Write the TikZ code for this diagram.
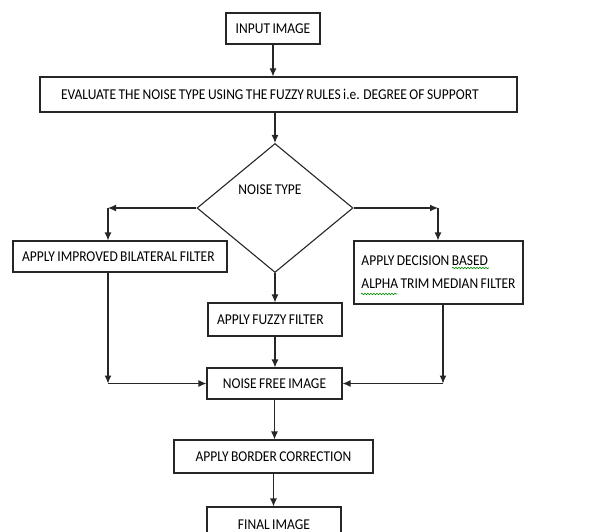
\documentclass[tikz,border=0pt]{standalone}
\usepackage{fontspec}
\setmainfont{Carlito}[FakeStretch=0.9,WordSpace=0.8]
\usetikzlibrary{arrows.meta,shapes.geometric,decorations.pathmorphing}
\begin{document}
\begin{tikzpicture}[x=1pt,y=-1pt,
  box/.style={draw=black!85,line width=1.1pt,rectangle,inner sep=0pt,font=\fontsize{15pt}{23pt}\selectfont},
  lbl/.style={inner sep=0pt,font=\fontsize{15pt}{23pt}\selectfont},
  arr/.style={draw=black!85,line width=1.1pt,-{Latex[length=8pt,width=7pt]}},
  wavy/.style={draw=green!55!black,line width=0.6pt,decorate,decoration={snake,amplitude=0.8pt,segment length=3pt}}]
\useasboundingbox (0,0) rectangle (616,532);
\clip (0,0) rectangle (616,532);
\node[box,minimum width=94pt,minimum height=31pt] (in) at (273,28.5) {INPUT IMAGE};
\node[box,minimum height=35pt,inner xsep=21pt] (ev) at (278.5,94.5) {\makebox[435pt][l]{EVALUATE THE NOISE TYPE USING THE FUZZY RULES i.e. DEGREE OF SUPPORT}};
\node[draw=black!85,line width=1.1pt,diamond,minimum width=156pt,minimum height=129pt,inner sep=0pt] (dia) at (275,208) {};
\node[lbl] (dt) at (270,190) {NOISE TYPE};
\node[box,minimum height=31pt,inner xsep=9pt] (lb) at (120,256.5) {\makebox[196pt][l]{APPLY IMPROVED BILATERAL FILTER}};
\node[box,minimum width=169pt,minimum height=63pt,align=left] (rb) at (438.5,272.5) {APPLY DECISION BASED\\ALPHA TRIM MEDIAN FILTER};
\node[box,minimum height=33pt,inner xsep=9pt] (fz) at (275,319.5) {\makebox[116pt][l]{APPLY FUZZY FILTER}};
\node[box,minimum width=135pt,minimum height=31pt] (nf) at (274.5,383.5) {NOISE FREE IMAGE};
\node[box,minimum width=199pt,minimum height=33pt] (bc) at (273.5,456.5) {APPLY BORDER CORRECTION};
\node[box,minimum width=134pt,minimum height=35pt] (fi) at (274,524.5) {FINAL IMAGE};
\coordinate (lc) at (108,208);
\coordinate (rc) at (438,208);
\coordinate (lbot) at (108,383.5);
\coordinate (rbot) at (443,383.5);
\draw[arr] (in.south) -- (in.south |- ev.north);
\draw[arr] (ev.south -| dia.north) -- (dia.north);
\draw[arr] (dia.west) -- (lc);
\draw[arr] (lc) -- (lc |- lb.north);
\draw[arr] (dia.east) -- (rc);
\draw[arr] (rc) -- (rc |- rb.north);
\draw[arr] (dia.south) -- (fz.north);
\draw[arr] (fz.south) -- (fz.south |- nf.north);
\draw[arr] (lc |- lb.south) -- (lbot);
\draw[arr] (lbot) -- (nf.west);
\draw[arr] (rbot |- rb.south) -- (rbot);
\draw[arr] (rbot) -- (nf.east);
\draw[arr] (nf.south) -- (nf.south |- bc.north);
\draw[arr] (bc.south) -- (bc.south |- fi.north);
\draw[wavy] (452,268) -- (489,268);
\draw[wavy] (361,294) -- (397,294);
\end{tikzpicture}
\end{document}
